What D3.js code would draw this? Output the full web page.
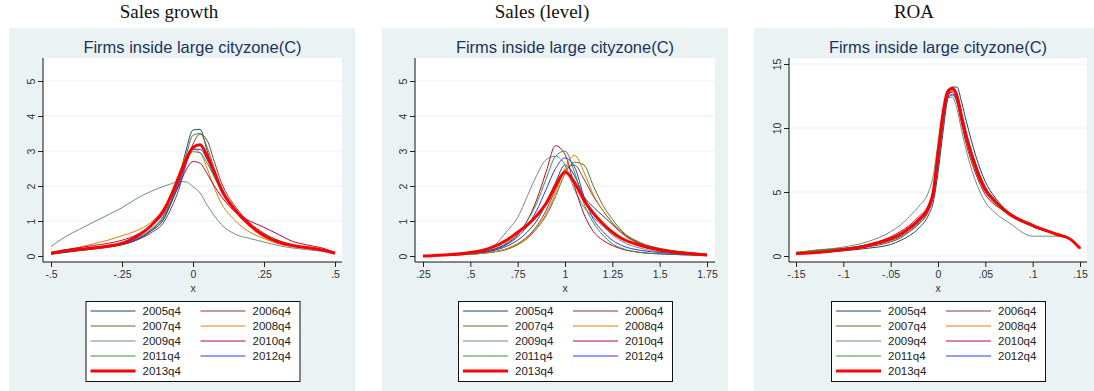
<!DOCTYPE html>
<html>
<head>
<meta charset="utf-8">
<script src="https://cdn.jsdelivr.net/npm/d3@7"></script>
<style>
  body { margin: 0; background: #fff; }
  svg { display: block; }
  .tick text { font-family: "Liberation Sans", Arial, sans-serif; }
</style>
</head>
<body>
<svg id="chart" width="1094" height="391"></svg>
<script>
// ---- data ----
const years = ['2005q4','2006q4','2007q4','2008q4','2009q4','2010q4','2011q4','2012q4','2013q4'];
const colors = ['#1a476f','#90353b','#55752f','#e37e00','#6e8e84','#c10534','#2f9a2f','#3333ff','#ff0000'];

// Sales growth
const growthX = [-0.5,-0.45,-0.4,-0.35,-0.3,-0.25,-0.2,-0.15,-0.1,-0.075,-0.05,-0.025,0,0.025,0.05,0.075,0.1,0.15,0.2,0.25,0.3,0.35,0.4,0.45,0.5];
const growth2005 = [0.05,0.1,0.15,0.2,0.25,0.32,0.45,0.7,1.1,1.6,2.2,3.0,3.6,3.62,3.0,2.4,1.9,1.3,0.9,0.6,0.42,0.3,0.24,0.18,0.08];
const growth2006 = [0.06,0.12,0.17,0.22,0.27,0.33,0.45,0.65,1.0,1.4,1.9,2.6,3.2,3.48,3.3,2.7,2.1,1.4,0.95,0.65,0.45,0.32,0.25,0.18,0.08];
const growth2007 = [0.07,0.13,0.18,0.22,0.27,0.34,0.47,0.7,1.1,1.55,2.1,2.85,3.45,3.5,3.1,2.5,1.95,1.3,0.9,0.62,0.42,0.3,0.24,0.18,0.08];
const growth2008 = [0.1,0.17,0.25,0.35,0.45,0.58,0.72,0.95,1.4,1.85,2.35,2.85,3.05,2.95,2.5,1.95,1.5,1.0,0.68,0.5,0.35,0.27,0.22,0.17,0.08];
const growth2009 = [0.27,0.55,0.76,0.97,1.17,1.38,1.63,1.84,2.0,2.07,2.13,2.12,1.98,1.8,1.45,1.15,0.9,0.62,0.5,0.4,0.3,0.23,0.18,0.14,0.07];
const growth2010 = [0.1,0.18,0.24,0.3,0.36,0.45,0.6,0.85,1.25,1.6,2.0,2.45,2.7,2.65,2.35,2.0,1.7,1.25,1.0,0.82,0.62,0.42,0.32,0.24,0.1];
const growth2011 = [0.08,0.15,0.2,0.25,0.3,0.38,0.5,0.75,1.2,1.6,2.1,2.65,2.98,2.95,2.65,2.25,1.85,1.3,0.9,0.62,0.42,0.3,0.24,0.18,0.08];
const growth2012 = [0.07,0.13,0.18,0.22,0.27,0.34,0.47,0.72,1.15,1.55,2.05,2.65,3.05,3.05,2.75,2.3,1.9,1.3,0.9,0.6,0.42,0.3,0.24,0.18,0.08];
const growth2013 = [0.08,0.14,0.19,0.23,0.28,0.36,0.55,0.85,1.35,1.75,2.25,2.75,3.1,3.18,2.85,2.4,1.9,1.3,0.88,0.58,0.4,0.3,0.24,0.18,0.08];

// Sales (level)
const levelX = [0.25,0.3,0.4,0.5,0.6,0.7,0.75,0.8,0.85,0.9,0.95,1.0,1.05,1.1,1.15,1.2,1.25,1.3,1.4,1.5,1.6,1.7,1.75];
const level2005 = [0,0.01,0.03,0.07,0.13,0.3,0.45,0.68,1.0,1.5,2.1,2.6,2.3,1.7,1.4,1.15,0.9,0.65,0.35,0.2,0.12,0.07,0.05];
const level2006 = [0,0.01,0.02,0.05,0.1,0.22,0.35,0.55,0.85,1.3,1.9,2.45,2.6,2.2,1.7,1.3,0.95,0.68,0.35,0.2,0.12,0.07,0.04];
const level2007 = [0,0.01,0.02,0.05,0.1,0.2,0.32,0.5,0.78,1.15,1.7,2.35,2.68,2.6,2.0,1.45,1.05,0.72,0.38,0.22,0.13,0.07,0.04];
const level2008 = [0,0.01,0.02,0.05,0.1,0.22,0.35,0.52,0.8,1.2,1.8,2.5,2.88,2.4,1.75,1.3,0.95,0.65,0.32,0.18,0.1,0.05,0.03];
const level2009 = [0,0.01,0.03,0.08,0.2,0.75,1.1,1.7,2.3,2.75,2.85,2.6,1.9,1.4,1.1,0.85,0.6,0.42,0.22,0.12,0.07,0.04,0.02];
const level2010 = [0,0.01,0.03,0.07,0.15,0.38,0.6,1.0,1.6,2.4,3.15,2.9,2.0,1.2,0.7,0.45,0.3,0.2,0.1,0.06,0.04,0.02,0.01];
const level2011 = [0,0.01,0.03,0.07,0.16,0.4,0.62,1.0,1.5,2.2,2.85,3.0,2.4,1.5,0.95,0.6,0.35,0.22,0.1,0.06,0.04,0.02,0.01];
const level2012 = [0,0.01,0.03,0.07,0.15,0.35,0.55,0.85,1.3,1.9,2.5,2.8,2.55,1.7,1.05,0.7,0.45,0.3,0.16,0.1,0.06,0.03,0.02];
const level2013 = [0,0.01,0.04,0.1,0.22,0.48,0.68,0.88,1.15,1.5,2.0,2.4,2.1,1.6,1.22,0.92,0.68,0.5,0.3,0.17,0.1,0.05,0.03];

// ROA
const roaX = [-0.15,-0.125,-0.1,-0.075,-0.05,-0.04,-0.03,-0.02,-0.01,-0.005,0,0.005,0.01,0.015,0.02,0.025,0.03,0.04,0.05,0.06,0.075,0.1,0.125,0.14,0.15];
const roa2005 = [0.15,0.25,0.4,0.6,0.9,1.2,1.6,2.2,3.2,4.2,6.5,9.5,12.2,13.2,13.2,12.0,10.5,7.8,5.8,4.6,3.4,2.4,1.75,1.35,0.6];
const roa2006 = [0.2,0.3,0.45,0.7,1.1,1.4,1.9,2.5,3.5,4.6,7.0,10.0,12.3,12.9,12.6,11.2,9.6,7.2,5.4,4.4,3.4,2.3,1.7,1.3,0.6];
const roa2007 = [0.25,0.5,0.6,0.8,1.2,1.5,2.0,2.6,3.6,4.7,7.3,10.3,12.5,13.0,12.5,11.0,9.4,7.0,5.3,4.3,3.3,2.3,1.7,1.3,0.6];
const roa2008 = [0.2,0.35,0.55,0.85,1.35,1.7,2.2,2.9,3.9,5.0,7.8,10.8,12.7,13.0,12.4,10.9,9.2,6.8,5.2,4.3,3.3,2.3,1.7,1.3,0.6];
const roa2009 = [0.3,0.45,0.7,1.1,1.9,2.4,3.1,3.9,5.0,6.3,8.8,11.2,12.4,12.4,11.5,9.8,8.2,5.8,4.2,3.4,2.6,1.55,1.55,1.3,0.6];
const roa2010 = [0.2,0.35,0.55,0.9,1.5,1.9,2.4,3.1,4.0,5.2,8.0,11.0,12.6,12.8,12.0,10.3,8.7,6.4,4.8,4.0,3.4,2.3,1.7,1.3,0.6];
const roa2011 = [0.25,0.45,0.6,0.85,1.25,1.6,2.1,2.7,3.7,4.8,7.5,10.5,12.3,12.6,12.0,10.6,9.0,6.6,5.0,4.1,3.2,2.3,1.75,1.35,0.6];
const roa2012 = [0.2,0.3,0.5,0.8,1.3,1.6,2.1,2.7,3.7,4.8,7.6,10.6,12.3,12.6,12.2,10.8,9.4,7.0,5.3,4.3,3.3,2.35,1.75,1.35,0.6];
const roa2013 = [0.2,0.3,0.5,0.8,1.35,1.7,2.2,2.85,3.8,5.0,8.0,11.0,12.8,13.1,12.5,10.8,9.3,6.9,5.2,4.3,3.3,2.4,1.7,1.3,0.6];

const growthTicksX = [-0.5,-0.25,0,0.25,0.5];
const levelTicksX = [0.25,0.5,0.75,1,1.25,1.5,1.75];
const roaTicksX = [-0.15,-0.1,-0.05,0,0.05,0.1,0.15];
const densTicksY = [0,1,2,3,4,5];
const roaTicksY = [0,5,10,15];

const panels = [
  { title: 'Sales growth', left: 9, plotL: 43, plotR: 342, xDom: [-0.5, 0.5], xRng: [51, 335],
    yDom: [0, 5], yRng: [256, 81], xs: growthX, xTicks: growthTicksX, yTicks: densTicksY,
    series: [growth2005,growth2006,growth2007,growth2008,growth2009,growth2010,growth2011,growth2012,growth2013] },
  { title: 'Sales (level)', left: 382, plotL: 415, plotR: 715, xDom: [0.25, 1.75], xRng: [423, 707],
    yDom: [0, 5], yRng: [256, 81], xs: levelX, xTicks: levelTicksX, yTicks: densTicksY,
    series: [level2005,level2006,level2007,level2008,level2009,level2010,level2011,level2012,level2013] },
  { title: 'ROA', left: 754, plotL: 789, plotR: 1087, xDom: [-0.15, 0.15], xRng: [796, 1080],
    yDom: [0, 15], yRng: [256, 64], xs: roaX, xTicks: roaTicksX, yTicks: roaTicksY,
    series: [roa2005,roa2006,roa2007,roa2008,roa2009,roa2010,roa2011,roa2012,roa2013] }
];

// ---- drawing ----
const svg = d3.select('#chart');
const bg = '#eaf2f3';
const plotTop = 58, plotBot = 262;
const sans = '"Liberation Sans", Arial, sans-serif';

// stata-style numbers: -.5, .25, 0
const fmt = d => String(+d.toFixed(4)).replace(/^(-?)0\./, '$1.');

panels.forEach(p => {
  const g = svg.append('g');
  const x = d3.scaleLinear().domain(p.xDom).range(p.xRng);
  const y = d3.scaleLinear().domain(p.yDom).range(p.yRng);

  g.append('rect').attr('x', p.left).attr('y', 28)
    .attr('width', Math.min(346, 1094 - p.left)).attr('height', 391 - 28).attr('fill', bg);

  g.append('text').attr('x', p.left + 160).attr('y', 18)
    .attr('text-anchor', 'middle').attr('font-family', '"Liberation Serif", "Times New Roman", serif')
    .attr('font-size', 19).attr('fill', '#111').text(p.title);

  g.append('text').attr('x', (p.plotL + p.plotR) / 2).attr('y', 53)
    .attr('text-anchor', 'middle').attr('font-family', sans)
    .attr('font-size', 16.5).attr('fill', '#1c3461').text('Firms inside large cityzone(C)');

  // plot region
  g.append('rect').attr('x', p.plotL).attr('y', plotTop)
    .attr('width', p.plotR - p.plotL).attr('height', plotBot - plotTop).attr('fill', '#fff');

  g.append('g').selectAll('line').data(p.yTicks).join('line')
    .attr('x1', p.plotL).attr('x2', p.plotR)
    .attr('y1', d => y(d)).attr('y2', d => y(d))
    .attr('stroke', bg).attr('stroke-width', 1);

  // curves
  const line = d3.line().x(d => x(d[0])).y(d => y(d[1])).curve(d3.curveMonotoneX);
  p.series.forEach((vals, i) => {
    g.append('path')
      .datum(p.xs.map((xv, j) => [xv, vals[j]]))
      .attr('d', line)
      .attr('fill', 'none')
      .attr('stroke', colors[i])
      .attr('stroke-width', i === 8 ? 3 : 1)
      .attr('stroke-linejoin', 'round');
  });

  // y axis
  const yAx = g.append('g').attr('transform', `translate(${p.plotL},0)`)
    .call(d3.axisLeft(y).tickValues(p.yTicks).tickFormat(fmt).tickSize(5).tickPadding(3));
  yAx.select('.domain').remove();
  yAx.selectAll('.tick line').attr('stroke', '#222');
  yAx.selectAll('.tick text')
    .attr('font-size', 10.5).attr('fill', '#333')
    .attr('x', null).attr('dy', null)
    .attr('text-anchor', 'middle')
    .attr('transform', 'translate(-8,0) rotate(-90)');
  g.append('line').attr('x1', p.plotL).attr('x2', p.plotL)
    .attr('y1', plotTop).attr('y2', plotBot).attr('stroke', '#111');

  // x axis
  const xAx = g.append('g').attr('transform', `translate(0,${plotBot})`)
    .call(d3.axisBottom(x).tickValues(p.xTicks).tickFormat(fmt).tickSize(5).tickPadding(4));
  xAx.select('.domain').remove();
  xAx.selectAll('.tick line').attr('stroke', '#222');
  xAx.selectAll('.tick text').attr('font-size', 10.5).attr('fill', '#333');
  g.append('line').attr('x1', p.plotL).attr('x2', p.plotR)
    .attr('y1', plotBot).attr('y2', plotBot).attr('stroke', '#111');

  g.append('text').attr('x', x((p.xDom[0] + p.xDom[1]) / 2)).attr('y', 292)
    .attr('text-anchor', 'middle').attr('font-family', sans)
    .attr('font-size', 10.5).attr('fill', '#333').text('x');

  // legend
  const lx = (p.plotL + p.plotR) / 2 - 107;
  const leg = g.append('g').attr('transform', `translate(${lx},301)`);
  leg.append('rect').attr('x', 0.5).attr('y', 0.5).attr('width', 214).attr('height', 80)
    .attr('fill', '#fff').attr('stroke', '#111');
  years.forEach((yr, i) => {
    const col = i % 2, row = Math.floor(i / 2);
    const ox = col === 0 ? 5 : 115;
    const oy = 10 + row * 15;
    leg.append('line').attr('x1', ox).attr('x2', ox + 45)
      .attr('y1', oy).attr('y2', oy)
      .attr('stroke', colors[i]).attr('stroke-width', i === 8 ? 3 : 1);
    leg.append('text').attr('x', ox + 52).attr('y', oy + 4)
      .attr('font-family', sans).attr('font-size', 11.5).attr('fill', '#222').text(yr);
  });
});
</script>
</body>
</html>
